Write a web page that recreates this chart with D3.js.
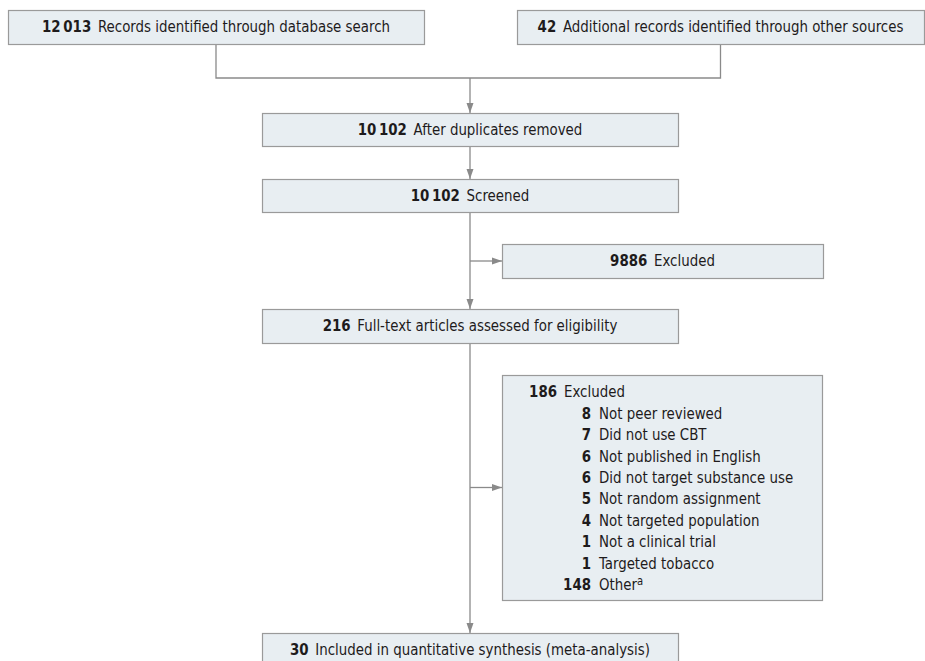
<!DOCTYPE html>
<html><head><meta charset="utf-8">
<script src="https://cdn.jsdelivr.net/npm/d3@7"></script>
<style>
body{margin:0;background:#fff;}
svg text{font-family:"DejaVu Sans Condensed","Liberation Sans Narrow",sans-serif;fill:#1e1b1c;}
</style></head><body>
<svg id="c" width="925" height="661"></svg>
<script>
// ---- data ----
const stageCounts = ["12\u2009013", "42", "10\u2009102", "10\u2009102", "9886", "216", "186", "30"];
const stageLabels = [
  "Records identified through database search",
  "Additional records identified through other sources",
  "After duplicates removed",
  "Screened",
  "Excluded",
  "Full-text articles assessed for eligibility",
  "Excluded",
  "Included in quantitative synthesis (meta-analysis)"
];
const reasonCounts = ["8", "7", "6", "6", "5", "4", "1", "1", "148"];
const reasonLabels = [
  "Not peer reviewed", "Did not use CBT", "Not published in English",
  "Did not target substance use", "Not random assignment", "Not targeted population",
  "Not a clinical trial", "Targeted tobacco", "Other"
];

// ---- layout (box geometry in pixel space) ----
const boxes = [
  {x0: 8,   x1: 424, y0: 10,  y1: 44},
  {x0: 517, x1: 924, y0: 10,  y1: 44},
  {x0: 262, x1: 678, y0: 113, y1: 146},
  {x0: 262, x1: 678, y0: 179, y1: 212},
  {x0: 502, x1: 823, y0: 244, y1: 278},
  {x0: 262, x1: 678, y0: 309, y1: 343},
  {x0: 502, x1: 822, y0: 375, y1: 600},
  {x0: 262, x1: 678, y0: 633, y1: 668}
];
const fill = "#e8eef2", stroke = "#9a9a9a", lineCol = "#8a8a8a";
const fs = 16, sx = 0.93;

const svg = d3.select("#c");
const defs = svg.append("defs");
defs.append("marker").attr("id","arr").attr("viewBox","0 0 10 10")
  .attr("refX",10).attr("refY",5).attr("markerWidth",10).attr("markerHeight",10)
  .attr("markerUnits","userSpaceOnUse").attr("orient","auto")
  .append("path").attr("d","M0,1.5 L10,5 L0,8.5 Z").attr("fill",lineCol);

const cx = d => (d.x0 + d.x1) / 2;
const cy = d => (d.y0 + d.y1) / 2;
const mainX = cx(boxes[2]);

// connectors
const g = svg.append("g").attr("fill","none").attr("stroke",lineCol).attr("stroke-width",1.3);
const joinY = 78;
g.append("path").attr("d", d3.line()([[cx(boxes[0]), boxes[0].y1],[cx(boxes[0]), joinY],[cx(boxes[1]), joinY],[cx(boxes[1]), boxes[1].y1]]));
g.append("line").attr("x1",mainX).attr("y1",joinY).attr("x2",mainX).attr("y2",boxes[2].y0).attr("marker-end","url(#arr)");
g.append("line").attr("x1",mainX).attr("y1",boxes[2].y1).attr("x2",mainX).attr("y2",boxes[3].y0).attr("marker-end","url(#arr)");
g.append("line").attr("x1",mainX).attr("y1",boxes[3].y1).attr("x2",mainX).attr("y2",boxes[5].y0).attr("marker-end","url(#arr)");
g.append("line").attr("x1",mainX).attr("y1",cy(boxes[4])).attr("x2",boxes[4].x0).attr("y2",cy(boxes[4])).attr("marker-end","url(#arr)");
g.append("line").attr("x1",mainX).attr("y1",boxes[5].y1).attr("x2",mainX).attr("y2",boxes[7].y0).attr("marker-end","url(#arr)");
g.append("line").attr("x1",mainX).attr("y1",cy(boxes[6])).attr("x2",boxes[6].x0).attr("y2",cy(boxes[6])).attr("marker-end","url(#arr)");

// boxes
svg.append("g").selectAll("rect").data(boxes).join("rect")
  .attr("x", d => d.x0 + 0.5).attr("y", d => d.y0 + 0.5)
  .attr("width", d => d.x1 - d.x0).attr("height", d => d.y1 - d.y0)
  .attr("fill", fill).attr("stroke", stroke).attr("stroke-width", 1.2);

// helper: condensed text placed at (x,y)
function label(x, y, anchor) {
  return svg.append("g").attr("transform", `translate(${x},${y}) scale(${sx},1)`)
    .append("text").attr("text-anchor", anchor).attr("dominant-baseline","central")
    .attr("font-size", fs);
}

// centered labels (all except the detailed exclusion box)
[0,1,2,3,4,5,7].forEach(i => {
  const b = boxes[i];
  const t = label(cx(b), i === 7 ? b.y0 + 17 : cy(b), "middle");
  t.append("tspan").attr("font-weight","bold").text(stageCounts[i]);
  t.append("tspan").text("\u2002" + stageLabels[i]);
});

// detailed exclusion box
const rowY = d3.scaleLinear().domain([0, reasonCounts.length]).range([392, 585]);
label(557, rowY(0), "end").attr("font-weight","bold").text(stageCounts[6]);
label(564, rowY(0), "start").text(stageLabels[6]);
reasonCounts.forEach((c, i) => {
  label(591, rowY(i + 1), "end").attr("font-weight","bold").text(c);
  const t = label(599, rowY(i + 1), "start");
  t.append("tspan").text(reasonLabels[i]);
  if (reasonLabels[i] === "Other") t.append("tspan").attr("font-size", 12).attr("dy", -4).text("a");
});
</script></body></html>
